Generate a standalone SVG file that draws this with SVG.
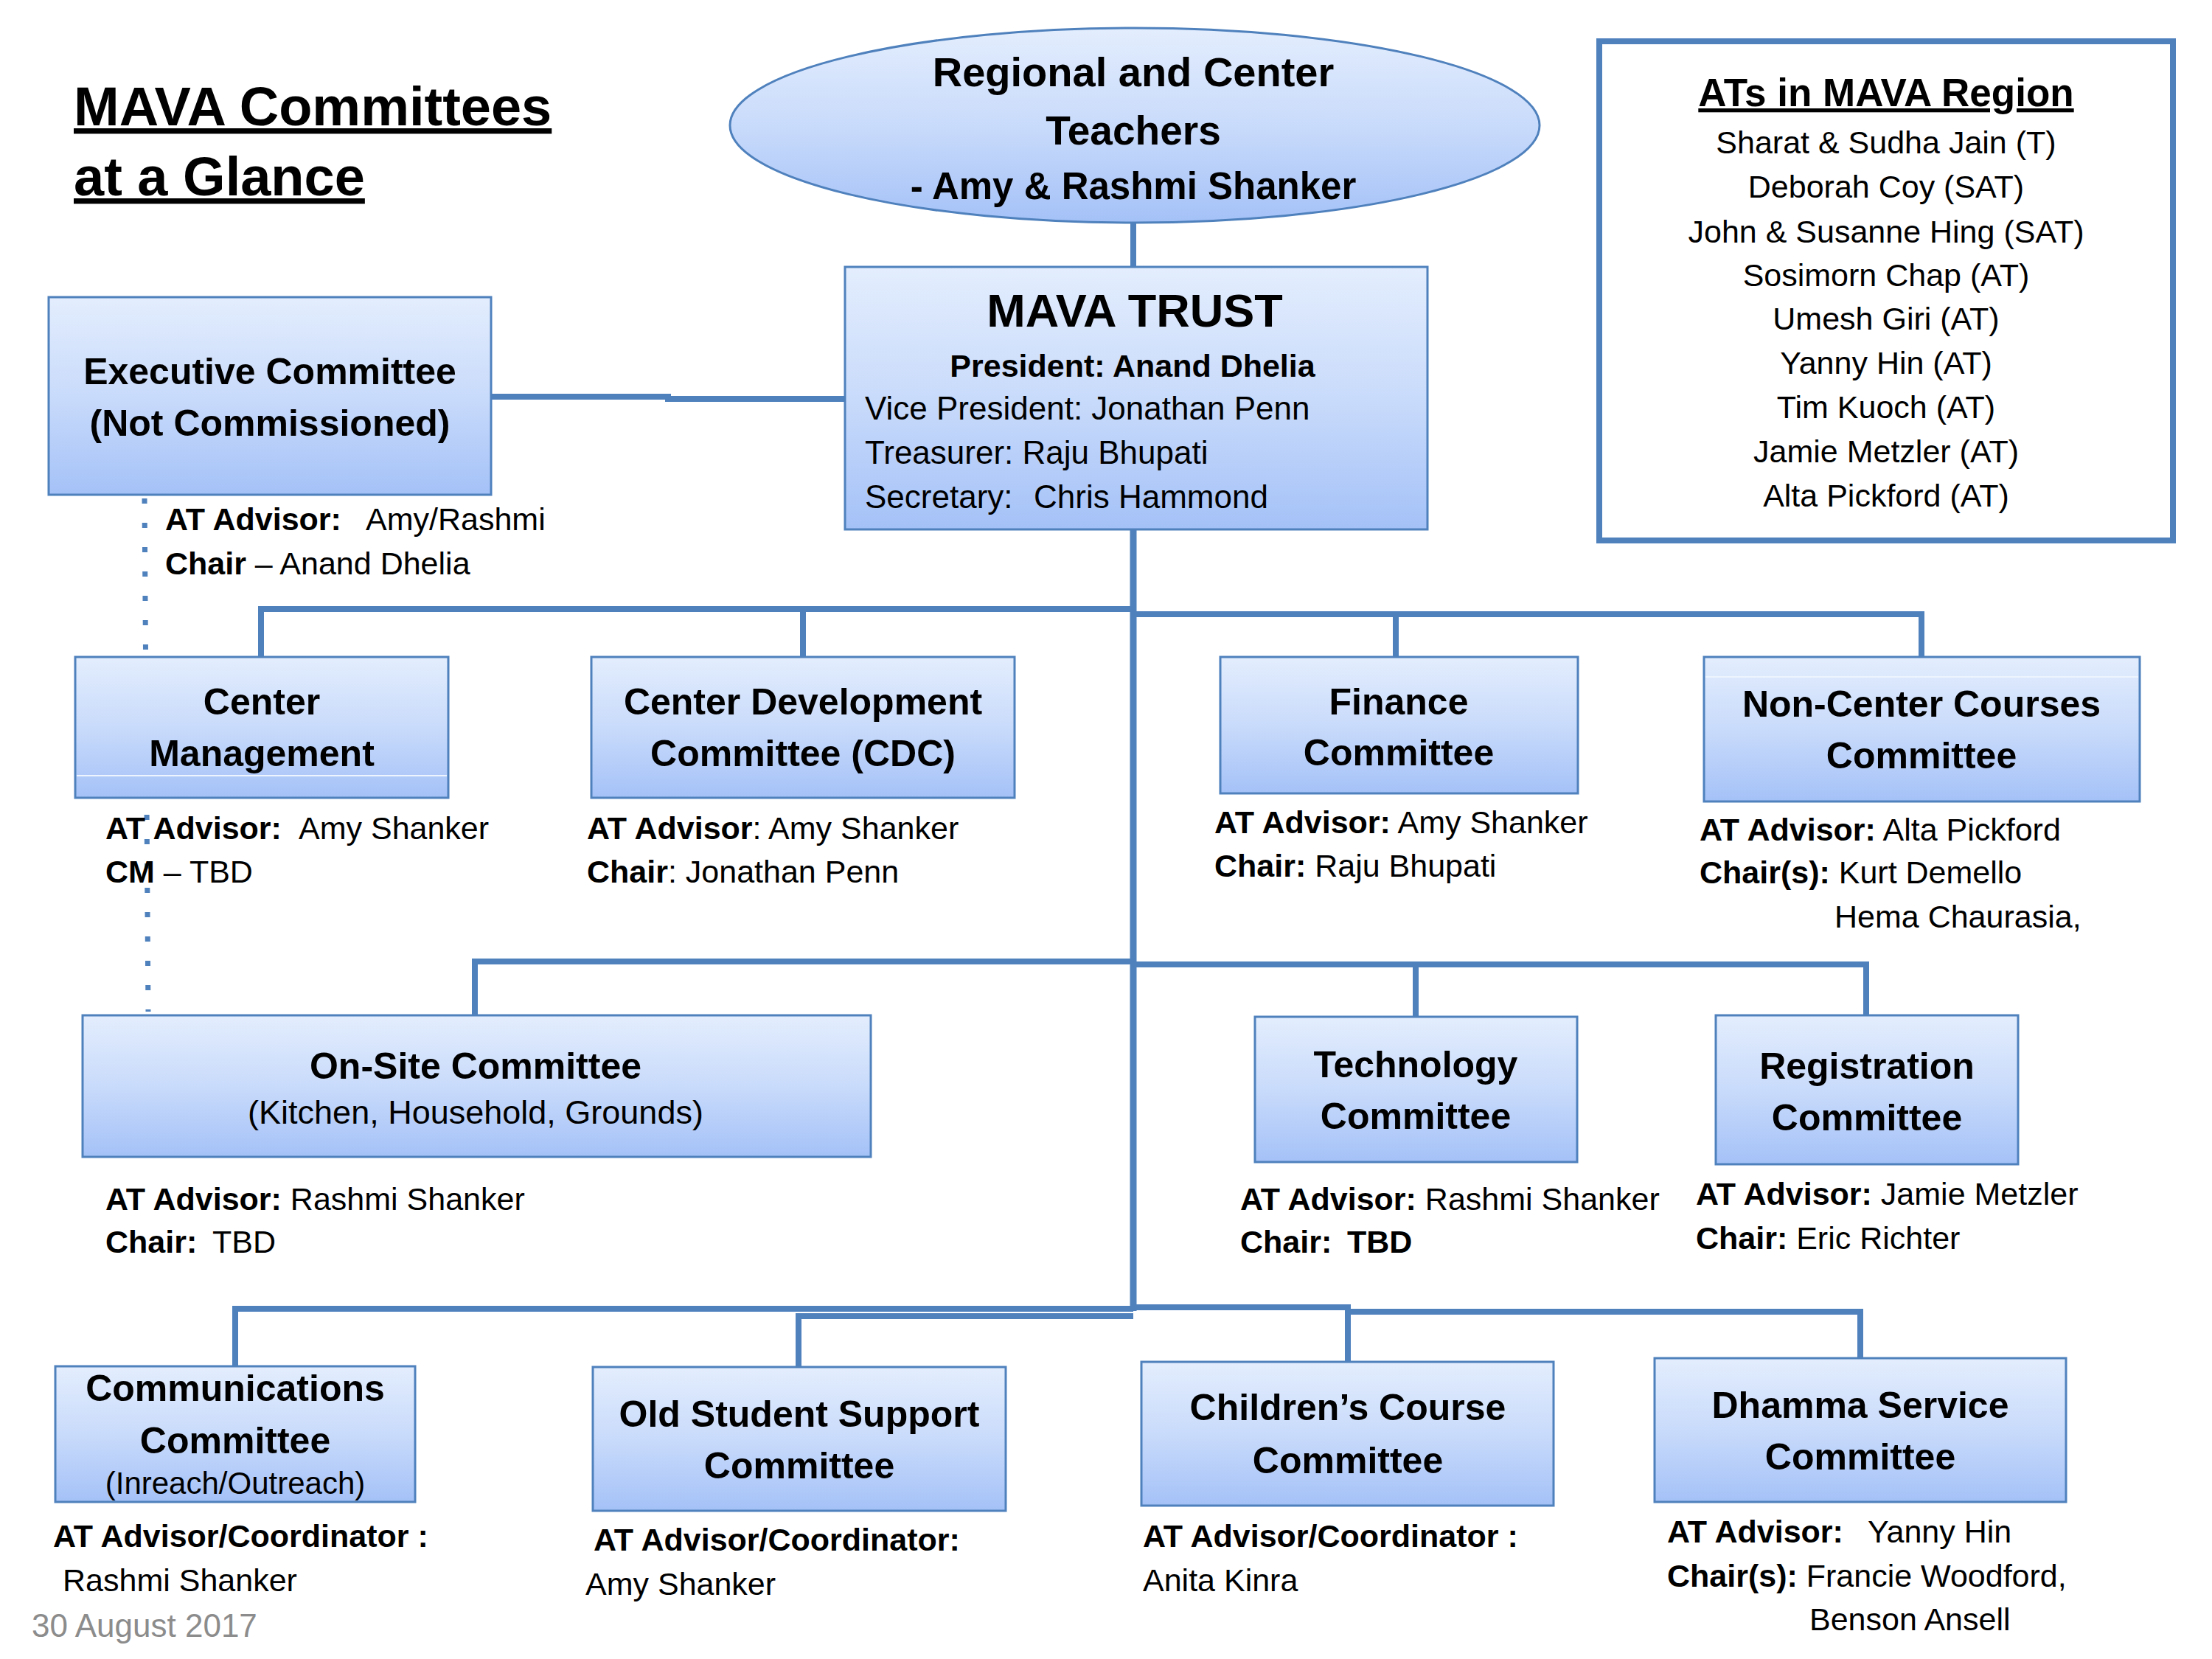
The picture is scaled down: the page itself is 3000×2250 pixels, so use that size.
<svg xmlns="http://www.w3.org/2000/svg" width="3000" height="2250" viewBox="0 0 3000 2250">
<defs>
<linearGradient id="g" x1="0" y1="0" x2="0" y2="1">
<stop offset="0" stop-color="#E3EDFD"/>
<stop offset="0.5" stop-color="#C9DBFB"/>
<stop offset="1" stop-color="#A4C1F7"/>
</linearGradient>
<style>
.box{fill:url(#g);stroke:#4F81BD;stroke-width:3}
.conn{stroke:#4F81BD;stroke-width:8;fill:none}
text{font-family:"Liberation Sans",Arial,sans-serif;fill:#000}
.h{font-weight:bold;font-size:50px;text-anchor:middle}
.i{font-size:43px}
.b{font-weight:bold}
.s{font-size:43px;text-anchor:middle}
.hl{stroke:#EEF4FE;stroke-width:2}
</style>
</defs>
<rect width="3000" height="2250" fill="#FFFFFF"/>

<g id="title">
<text x="100" y="170" font-size="74" font-weight="bold" text-decoration="underline">MAVA Committees</text>
<text x="100" y="265" font-size="74" font-weight="bold" text-decoration="underline">at a Glance</text>
</g>

<g id="connectors">
<path class="conn" d="M1537,302 V362"/>
<path class="conn" d="M666,538 H906 V541 H1146"/>
<path class="conn" style="stroke-width:9" d="M1537,718 V1778"/>
<path class="conn" d="M354,891 V826 H1537"/>
<path class="conn" d="M1089,826 V891"/>
<path class="conn" d="M1537,833 H2606 V891"/>
<path class="conn" d="M1893,833 V891"/>
<path class="conn" d="M644,1377 V1304 H1537"/>
<path class="conn" d="M1537,1308 H2531 V1377"/>
<path class="conn" d="M1920,1308 V1379"/>
<path class="conn" d="M319,1853 V1775 H1537"/>
<path class="conn" d="M1083,1854 V1785 H1537"/>
<path class="conn" d="M1537,1773 H1828 V1847"/>
<path class="conn" d="M1828,1779 H2523 V1842"/>
<path d="M196,676 L201,1372" stroke="#4F81BD" stroke-width="7" stroke-dasharray="7 26" fill="none"/>
</g>

<g id="teachers">
<ellipse class="box" cx="1539" cy="170" rx="549" ry="132"/>
<text class="h" x="1537" y="117" font-size="56" style="font-size:56px">Regional and Center</text>
<text class="h" x="1537" y="196" style="font-size:55px">Teachers</text>
<text class="h" x="1537" y="270" style="font-size:51px">- Amy &amp; Rashmi Shanker</text>
</g>

<g id="ats-region">
<rect x="2169" y="56" width="778" height="677" fill="#FFFFFF" stroke="#4F81BD" stroke-width="8"/>
<text x="2558" y="144" font-size="53" font-weight="bold" text-anchor="middle" text-decoration="underline">ATs in MAVA Region</text>
<text class="s" x="2558" y="208">Sharat &amp; Sudha Jain (T)</text>
<text class="s" x="2558" y="268">Deborah Coy (SAT)</text>
<text class="s" x="2558" y="329">John &amp; Susanne Hing (SAT)</text>
<text class="s" x="2558" y="388">Sosimorn Chap (AT)</text>
<text class="s" x="2558" y="447">Umesh Giri (AT)</text>
<text class="s" x="2558" y="507">Yanny Hin (AT)</text>
<text class="s" x="2558" y="567">Tim Kuoch (AT)</text>
<text class="s" x="2558" y="627">Jamie Metzler (AT)</text>
<text class="s" x="2558" y="687">Alta Pickford (AT)</text>
</g>

<g id="mava-trust">
<rect class="box" x="1146" y="362" width="790" height="356"/>
<text class="h" x="1539" y="443" style="font-size:63px">MAVA TRUST</text>
<text class="h" x="1536" y="511" style="font-size:43px">President: Anand Dhelia</text>
<text x="1173" y="569" font-size="44">Vice President: Jonathan Penn</text>
<text x="1173" y="629" font-size="44">Treasurer: Raju Bhupati</text>
<text x="1173" y="689" font-size="44">Secretary:<tspan x="1402">Chris Hammond</tspan></text>
</g>

<g id="executive">
<rect class="box" x="66" y="403" width="600" height="268"/>
<text class="h" x="366" y="521">Executive Committee</text>
<text class="h" x="366" y="591">(Not Commissioned)</text>
<text class="i" x="224" y="719"><tspan class="b">AT Advisor:</tspan><tspan x="496">Amy/Rashmi</tspan></text>
<text class="i" x="224" y="779"><tspan class="b">Chair</tspan> – Anand Dhelia</text>
</g>

<g id="center-management">
<rect class="box" x="102" y="891" width="506" height="191"/>
<line class="hl" x1="104" y1="1052" x2="606" y2="1052"/>
<text class="h" x="355" y="969">Center</text>
<text class="h" x="355" y="1039">Management</text>
<text class="i" x="143" y="1138"><tspan class="b">AT Advisor:</tspan><tspan x="405">Amy Shanker</tspan></text>
<text class="i" x="143" y="1197"><tspan class="b">CM</tspan> – TBD</text>
</g>

<g id="cdc">
<rect class="box" x="802" y="891" width="574" height="191"/>
<text class="h" x="1089" y="969">Center Development</text>
<text class="h" x="1089" y="1039">Committee (CDC)</text>
<text class="i" x="796" y="1138"><tspan class="b">AT Advisor</tspan>: Amy Shanker</text>
<text class="i" x="796" y="1197"><tspan class="b">Chair</tspan>: Jonathan Penn</text>
</g>

<g id="finance">
<rect class="box" x="1655" y="891" width="485" height="185"/>
<text class="h" x="1897" y="969">Finance</text>
<text class="h" x="1897" y="1038">Committee</text>
<text class="i" x="1647" y="1130"><tspan class="b">AT Advisor:</tspan> Amy Shanker</text>
<text class="i" x="1647" y="1189"><tspan class="b">Chair:</tspan> Raju Bhupati</text>
</g>

<g id="non-center">
<rect class="box" x="2311" y="891" width="591" height="196"/>
<line class="hl" x1="2313" y1="918" x2="2900" y2="918"/>
<text class="h" x="2606" y="972">Non-Center Courses</text>
<text class="h" x="2606" y="1042">Committee</text>
<text class="i" x="2305" y="1140"><tspan class="b">AT Advisor:</tspan> Alta Pickford</text>
<text class="i" x="2305" y="1198"><tspan class="b">Chair(s):</tspan> Kurt Demello</text>
<text class="i" x="2488" y="1258">Hema Chaurasia,</text>
</g>

<g id="on-site">
<rect class="box" x="112" y="1377" width="1069" height="192"/>
<text class="h" x="645" y="1463">On-Site Committee</text>
<text x="645" y="1524" font-size="45" text-anchor="middle">(Kitchen, Household, Grounds)</text>
<text class="i" x="143" y="1641"><tspan class="b">AT Advisor:</tspan> Rashmi Shanker</text>
<text class="i" x="143" y="1699"><tspan class="b">Chair:</tspan><tspan x="288">TBD</tspan></text>
</g>

<g id="technology">
<rect class="box" x="1702" y="1379" width="437" height="197"/>
<text class="h" x="1920" y="1461">Technology</text>
<text class="h" x="1920" y="1531">Committee</text>
<text class="i" x="1682" y="1641"><tspan class="b">AT Advisor:</tspan> Rashmi Shanker</text>
<text class="i b" x="1682" y="1699">Chair:<tspan x="1827">TBD</tspan></text>
</g>

<g id="registration">
<rect class="box" x="2327" y="1377" width="410" height="202"/>
<text class="h" x="2532" y="1463">Registration</text>
<text class="h" x="2532" y="1533">Committee</text>
<text class="i" x="2300" y="1634"><tspan class="b">AT Advisor:</tspan> Jamie Metzler</text>
<text class="i" x="2300" y="1694"><tspan class="b">Chair:</tspan> Eric Richter</text>
</g>

<g id="communications">
<rect class="box" x="75" y="1853" width="488" height="184"/>
<text class="h" x="319" y="1900">Communications</text>
<text class="h" x="319" y="1971">Committee</text>
<text x="319" y="2026" font-size="42" text-anchor="middle">(Inreach/Outreach)</text>
<text class="i b" x="72" y="2098">AT Advisor/Coordinator :</text>
<text class="i" x="85" y="2158">Rashmi Shanker</text>
</g>

<g id="old-student">
<rect class="box" x="804" y="1854" width="560" height="195"/>
<text class="h" x="1084" y="1935">Old Student Support</text>
<text class="h" x="1084" y="2005">Committee</text>
<text class="i b" x="805" y="2103">AT Advisor/Coordinator:</text>
<text class="i" x="794" y="2163">Amy Shanker</text>
</g>

<g id="childrens">
<rect class="box" x="1548" y="1847" width="559" height="195"/>
<text class="h" x="1828" y="1926">Children’s Course</text>
<text class="h" x="1828" y="1998">Committee</text>
<text class="i b" x="1550" y="2098">AT Advisor/Coordinator :</text>
<text class="i" x="1550" y="2158">Anita Kinra</text>
</g>

<g id="dhamma-service">
<rect class="box" x="2244" y="1842" width="558" height="195"/>
<text class="h" x="2523" y="1923">Dhamma Service</text>
<text class="h" x="2523" y="1993">Committee</text>
<text class="i" x="2261" y="2092"><tspan class="b">AT Advisor:</tspan><tspan x="2533">Yanny Hin</tspan></text>
<text class="i" x="2261" y="2152"><tspan class="b">Chair(s):</tspan> Francie Woodford,</text>
<text class="i" x="2454" y="2211">Benson Ansell</text>
</g>

<g id="date">
<text x="43" y="2220" font-size="44" fill="#8C8C8C" style="fill:#8C8C8C">30 August 2017</text>
</g>
</svg>
